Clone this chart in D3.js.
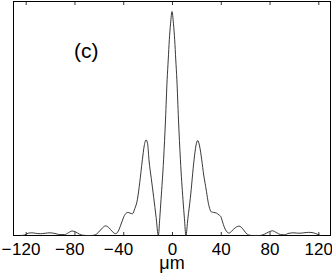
<!DOCTYPE html>
<html>
<head>
<meta charset="utf-8">
<script src="https://cdn.jsdelivr.net/npm/d3@7"></script>
<style>
  body { margin: 0; background: #fff; }
  text { font-family: "Liberation Sans", Arial, sans-serif; fill: #000; }
</style>
</head>
<body>
<div class="graph"></div>
<script>
// intensity profile (position in um, relative height)
var posUm = [-124, -121, -118, -115, -112, -108, -104, -100, -96, -92, -88, -85, -82, -79, -76, -73,
             -70, -66, -63, -60, -57, -54.5, -52, -49, -46.3, -44, -42.5, -41, -39.4, -37.5, -36,
             -34.5, -32.5, -30.5, -28.4, -26.5, -24.3, -22.8, -21.3, -20, -18.9, -17, -15, -13, -11.2,
             -10, -9, -6.9, -5.3, -4, -3.1, -2.2, -1.2, 0, 1.2, 2.2, 3.1, 4, 5.3, 6.9,
             9, 10.2, 11.4, 13, 15, 18.1, 19.6, 21.1, 22.6, 24.4, 26, 27.6, 30.4, 32.3, 34.2, 36.5,
             38.5, 40, 41.5, 42.7, 44.5, 46.8, 49, 52, 55, 58, 60.5, 63, 66, 72, 76, 79, 82.5, 86,
             89, 92, 96, 100, 104, 108, 112, 116, 119, 122];
var level = [0, 0.002, 0.010, 0.012, 0.010, 0.008, 0.010, 0.012, 0.009, 0.004, 0.004, 0.012, 0.020, 0.016, 0.006, 0.001,
             0, 0, 0.003, 0.016, 0.034, 0.043, 0.036, 0.018, 0.008, 0.02, 0.04, 0.062, 0.085, 0.1, 0.103,
             0.100, 0.097, 0.12, 0.16, 0.235, 0.338, 0.40, 0.427, 0.41, 0.338, 0.255, 0.17, 0.08, 0,
             0.08, 0.16, 0.338, 0.52, 0.695, 0.784, 0.874, 0.945, 1.0, 0.945, 0.874, 0.784, 0.695, 0.52, 0.338,
             0.16, 0.075, 0, 0.075, 0.165, 0.338, 0.40, 0.424, 0.40, 0.338, 0.27, 0.219, 0.13, 0.105, 0.103, 0.10,
             0.092, 0.085, 0.06, 0.04, 0.02, 0.011, 0.02, 0.035, 0.042, 0.03, 0.012, 0.002, 0, 0, 0.006, 0.015, 0.021, 0.012,
             0.004, 0.003, 0.010, 0.012, 0.010, 0.012, 0.014, 0.012, 0.006, 0];
var xTicks = [-120, -80, -40, 0, 40, 80, 120];
var panelLabel = "(c)";
var xTitle = "\u03bcm";

var width  = 332,
    height = 279;
var plotLeft = 13.5, plotRight = 330.5, plotTop = 1.5, plotBottom = 235.5;

var data = posUm.map(function (d, i) { return { x: d, y: level[i] }; });

var svg = d3.select(".graph")
            .append("svg")
            .attr("width", width)
            .attr("height", height);

var x = d3.scaleLinear().domain([-130, 130]).range([plotLeft, plotRight]);
var y = d3.scaleLinear().domain([0, 1.045]).range([plotBottom, plotTop]);

// bottom axis, ticks point inward
var xAxis = svg.append("g")
               .attr("transform", "translate(0," + plotBottom + ")")
               .call(d3.axisBottom(x).tickValues(xTicks).tickSize(-3.5).tickFormat(function (d) { return Math.abs(d); }));
xAxis.select(".domain").remove();
xAxis.selectAll("line").attr("stroke", "#000").attr("stroke-width", 0.8);
xAxis.selectAll("text")
     .attr("y", 19)
     .attr("dy", 0)
     .style("font-size", "17px")
     .attr("fill", "#000");

// minus sign hangs left of the centred digits
xAxis.selectAll(".tick").each(function (d) {
  if (d < 0) {
    var t = d3.select(this).select("text");
    var w = t.node().getComputedTextLength();
    d3.select(this).append("text")
      .attr("x", -w / 2 - 0.5)
      .attr("y", 19)
      .attr("text-anchor", "end")
      .style("font-size", "17px")
      .text("\u2212");
  }
});

var topAxis = svg.append("g")
                 .attr("transform", "translate(0," + plotTop + ")")
                 .call(d3.axisTop(x).tickValues(xTicks).tickSize(-3.5).tickFormat(""));
topAxis.select(".domain").remove();
topAxis.selectAll("line").attr("stroke", "#000").attr("stroke-width", 0.8);

svg.append("rect")
   .attr("x", plotLeft)
   .attr("y", plotTop)
   .attr("width", plotRight - plotLeft)
   .attr("height", plotBottom - plotTop)
   .attr("fill", "none")
   .attr("stroke", "#000")
   .attr("stroke-width", 1);

var line = d3.line()
             .x(function (d) { return x(d.x); })
             .y(function (d) { return y(d.y); })
             .curve(d3.curveMonotoneX);

svg.append("path")
   .datum(data)
   .attr("d", line)
   .attr("fill", "none")
   .attr("stroke", "#222")
   .attr("stroke-width", 0.9);

svg.append("text")
   .attr("x", 74)
   .attr("y", 57.5)
   .style("font-size", "21px")
   .text(panelLabel);

svg.append("text")
   .attr("x", x(0))
   .attr("y", 268.5)
   .attr("text-anchor", "middle")
   .style("font-size", "18px")
   .text(xTitle);
</script>
</body>
</html>
